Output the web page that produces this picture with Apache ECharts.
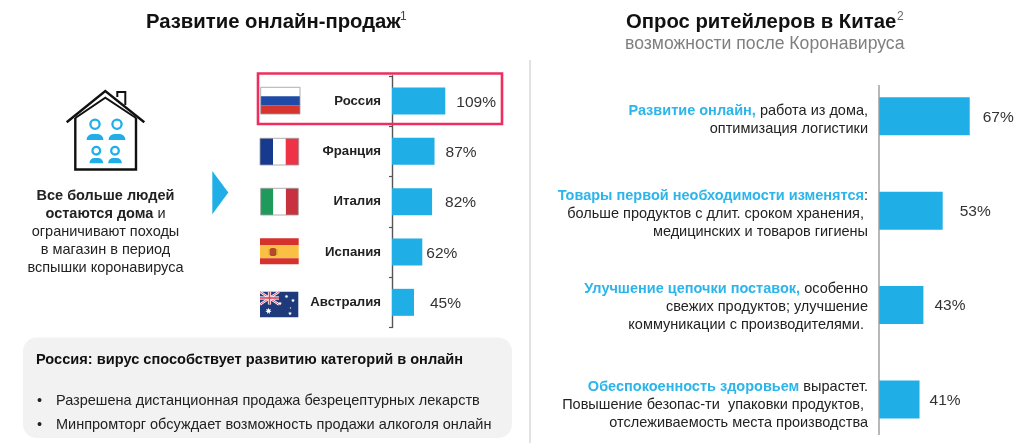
<!DOCTYPE html>
<html><head><meta charset="utf-8">
<script src="https://cdn.jsdelivr.net/npm/echarts@6/dist/echarts.min.js"></script>
<style>html,body{margin:0;padding:0;background:#fff}#c{width:1024px;height:443px}</style>
</head><body><div id="c"></div>
<script>
// ---- data ----
const countries = ['Россия', 'Франция', 'Италия', 'Испания', 'Австралия'];
const onlineGrowth = [109, 87, 82, 62, 45];
const retailerLeads = ['Развитие онлайн,', 'Товары первой необходимости изменятся', 'Улучшение цепочки поставок,', 'Обеспокоенность здоровьем'];
const retailerRests = [
  ' работа из дома,\nоптимизация логистики',
  ':\nбольше продуктов с длит. сроком хранения,\u00a0\nмедицинских и товаров гигиены',
  ' особенно\nсвежих продуктов; улучшение\nкоммуникации с производителями.\u00a0',
  ' вырастет.\nПовышение безопас-ти  упаковки продуктов,\u00a0\nотслеживаемость места производства'
];
const retailerShare = [67, 53, 43, 41];
const retailerCategories = retailerLeads.map((l, i) => l + retailerRests[i]);
// label placement of the reference (layout only)
const leftGaps = [11, 11, 13, 4, 16];
const rightGaps = [13, 17, 11, 10];
const rightLabelDrop = [4, 3, 2, 5];

const BLUE = '#1FAEE6', HL = '#2BB5EA', INK = '#222', FONT = '"Liberation Sans", Arial, sans-serif';

// ---- decoration helpers ----
const rect = (x, y, w, h, fill, extra) => ({type:'rect', z:10, shape:{x, y, width:w, height:h, ...(extra||{})}, style:{fill}});
const line = (x1, y1, x2, y2, stroke, lineWidth) => ({type:'line', z:10, shape:{x1, y1, x2, y2}, style:{stroke, lineWidth}});
const poly = (points, stroke, lineWidth) => ({type:'polyline', z:10, shape:{points}, style:{stroke, lineWidth, fill:null, lineJoin:'miter'}});
const txt = (x, y, text, font, fill, align, rich) => ({type:'text', z:10, x, y, style:{text, font, fill, align:align||'left', verticalAlign:'middle', rich}});
const frame = (x, y, w, h) => ({type:'rect', z:11, shape:{x, y, width:w, height:h}, style:{fill:null, stroke:'#9a9a9a', lineWidth:0.8}});
const star = (cx, cy, r) => {
  const points = [];
  for (let k = 0; k < 14; k++) {
    const a = -Math.PI / 2 + k * Math.PI / 7, rr = k % 2 ? r * 0.5 : r;
    points.push([cx + rr * Math.cos(a), cy + rr * Math.sin(a)]);
  }
  return {type:'polygon', z:12, shape:{points}, style:{fill:'#fff'}};
};
const person = (cx, cy, r, bw, by, bh) => [
  {type:'circle', z:10, shape:{cx, cy, r}, style:{fill:'#fff', stroke:BLUE, lineWidth:2.3}},
  {type:'rect', z:10, shape:{x:cx-bw, y:by, width:bw*2, height:bh, r:[bh*0.95, bh*0.95, 0, 0]}, style:{fill:BLUE}}
];

const graphics = [
  // titles
  txt(146, 22.5, 'Развитие онлайн-продаж', 'bold 20.3px '+FONT, '#111'),
  txt(400, 17, '1', '12px '+FONT, '#444'),
  txt(626, 22.5, 'Опрос ритейлеров в Китае', 'bold 20.3px '+FONT, '#111'),
  txt(897, 17, '2', '12px '+FONT, '#666'),
  txt(625, 44, 'возможности после Коронавируса', '17.6px '+FONT, '#7f7f7f'),
  // divider
  line(530, 60, 530, 443, '#cfcfcf', 1.2),
  // house
  poly([[66.7,122.3],[105.3,91],[144.3,122.3]], '#111', 2.4),
  poly([[75.3,118],[105.3,97.7],[136,118]], '#111', 2),
  poly([[75.3,118],[75.3,169.5],[136,169.5],[136,118]], '#111', 2.4),
  poly([[117.3,97],[117.3,92],[125.3,92],[125.3,105]], '#111', 2),
  ...person(95, 124.3, 4.6, 8.4, 134, 6),
  ...person(117, 124.3, 4.6, 8.4, 134, 6),
  ...person(96.3, 150.7, 3.8, 6.8, 158, 5.2),
  ...person(115, 150.7, 3.8, 6.8, 158, 5.2),
  // left text
  txt(105.5, 196, 'Все больше людей', 'bold 14.5px '+FONT, INK, 'center'),
  txt(105.5, 214, '{b|остаются дома} {r|и}', '14.5px '+FONT, INK, 'center', {b:{font:'bold 14.5px '+FONT, fill:INK}, r:{font:'14.5px '+FONT, fill:INK}}),
  txt(105.5, 232, 'ограничивают походы', '14.5px '+FONT, INK, 'center'),
  txt(105.5, 250, 'в магазин в период', '14.5px '+FONT, INK, 'center'),
  txt(105.5, 268, 'вспышки коронавируса', '14.5px '+FONT, INK, 'center'),
  // arrow
  {type:'polygon', z:10, shape:{points:[[212.3,171],[228.3,192.5],[212.3,214.3]]}, style:{fill:BLUE}},
  // highlight box
  {type:'rect', z:13, shape:{x:258, y:73.5, width:244, height:50.5}, style:{fill:null, stroke:'#EF2D5E', lineWidth:2.6}},
  // Russia
  rect(260.7,87.3,39.3,9,'#fff'), rect(260.7,96.3,39.3,9,'#1F4AA5'), rect(260.7,105.3,39.3,8.7,'#D6362F'), frame(260.7,87.3,39.3,26.7),
  // France
  rect(260,138.3,13,26.7,'#173A8F'), rect(273,138.3,12.7,26.7,'#fff'), rect(285.7,138.3,13,26.7,'#EE3347'), frame(260,138.3,38.7,26.7),
  // Italy
  rect(260.7,188.3,12.6,26.7,'#1E9A5B'), rect(273.3,188.3,12.6,26.7,'#fff'), rect(285.9,188.3,12.4,26.7,'#C8323F'), frame(260.7,188.3,37.6,26.7),
  // Spain
  rect(260,238.3,38.7,6.7,'#D5322E'), rect(260,245,38.7,13.3,'#F9C043'), rect(260,258.3,38.7,6,'#D5322E'),
  rect(270,248,6,8,'#B5472B',{r:1.5}), rect(268.6,249,1.4,6,'#C9A030'), rect(276,249,1.4,6,'#C9A030'),
  // Australia
  rect(260,291.7,38.3,25.6,'#1F3A7A'),
  line(260,291.7,279,304.5,'#fff',2.4), line(279,291.7,260,304.5,'#fff',2.4),
  line(260,291.7,279,304.5,'#E0405A',0.9), line(279,291.7,260,304.5,'#E0405A',0.9),
  line(269.5,291.7,269.5,304.5,'#fff',3.2), line(260,298,279,298,'#fff',3.2),
  line(269.5,291.7,269.5,304.5,'#E0405A',1.6), line(260,298,279,298,'#E0405A',1.6),
  star(268.5,311,3.2), star(286.5,296.5,1.9), star(293,300.5,1.9), star(280,303.5,1.9), star(290,313.5,1.9), star(290.5,308,0.9),
  // grey panel
  rect(23,337.5,489,100.5,'#F2F2F2',{r:14}),
  txt(36, 359.5, 'Россия: вирус способствует развитию категорий в онлайн', 'bold 14.6px '+FONT, '#111'),
  txt(37, 401, '•', '14.5px '+FONT, INK),
  txt(56, 401, 'Разрешена дистанционная продажа безрецептурных лекарств', '14.5px '+FONT, INK),
  txt(37, 425, '•', '14.5px '+FONT, INK),
  txt(56, 425, 'Минпромторг обсуждает возможность продажи алкоголя онлайн', '14.5px '+FONT, INK),
  // right axis line spans less than the category bands
  line(879, 85, 879, 435, '#9a9a9a', 1.4)
];

const chart = echarts.init(document.getElementById('c'), null, {renderer:'canvas'});
const valLabel = {show:true, position:'right', formatter:'{c}%', fontFamily:FONT, fontSize:15.5, color:'#333'};
chart.setOption({
  animation:false,
  backgroundColor:'#fff',
  grid:[
    {left:392, top:75.8, width:117.3, height:251.7, outerBoundsMode:'none'},
    {left:879, top:69.1, width:96.5, height:377.6, outerBoundsMode:'none'}
  ],
  xAxis:[
    {gridIndex:0, type:'value', min:0, max:240, show:false},
    {gridIndex:1, type:'value', min:20, max:70, show:false}
  ],
  yAxis:[
    {gridIndex:0, type:'category', inverse:true, data:countries,
     axisLine:{lineStyle:{color:'#555', width:1.4}},
     axisTick:{show:true, length:3, lineStyle:{color:'#555', width:1.2}},
     axisLabel:{fontFamily:FONT, fontWeight:'bold', fontSize:13.2, color:INK, margin:11, padding:[2,0,0,0]}},
    {gridIndex:1, type:'category', inverse:true,
     data:retailerCategories.map((c, i) => ({value:c, textStyle:{padding:[rightLabelDrop[i]*2,0,0,0]}})),
     axisLine:{show:false}, axisTick:{show:false},
     axisLabel:{margin:11, align:'right', interval:0, fontFamily:FONT, fontSize:14.5, color:INK, lineHeight:18,
       formatter:(v, i) => {
         const rest = retailerRests[i].split('\n');
         const out = ['{h|' + retailerLeads[i] + '}{t|' + rest[0] + '}'];
         for (let k = 1; k < rest.length; k++) out.push('{t|' + rest[k] + '}');
         return out.join('\n');
       },
       rich:{
         h:{fontFamily:FONT, fontWeight:'bold', fontSize:14.5, color:HL, lineHeight:18},
         t:{fontFamily:FONT, fontSize:14.5, color:INK, lineHeight:18}
       }}}
  ],
  series:[
    {type:'bar', xAxisIndex:0, yAxisIndex:0, barWidth:27, itemStyle:{color:BLUE}, label:{...valLabel, offset:[0,1.5]},
     data:onlineGrowth.map((v, i) => ({value:v, label:{distance:leftGaps[i]}}))},
    {type:'bar', xAxisIndex:1, yAxisIndex:1, barWidth:38, itemStyle:{color:BLUE}, label:{...valLabel, offset:[0,1]},
     data:retailerShare.map((v, i) => ({value:v, label:{distance:rightGaps[i]}}))}
  ],
  graphic:graphics
});
</script></body></html>
